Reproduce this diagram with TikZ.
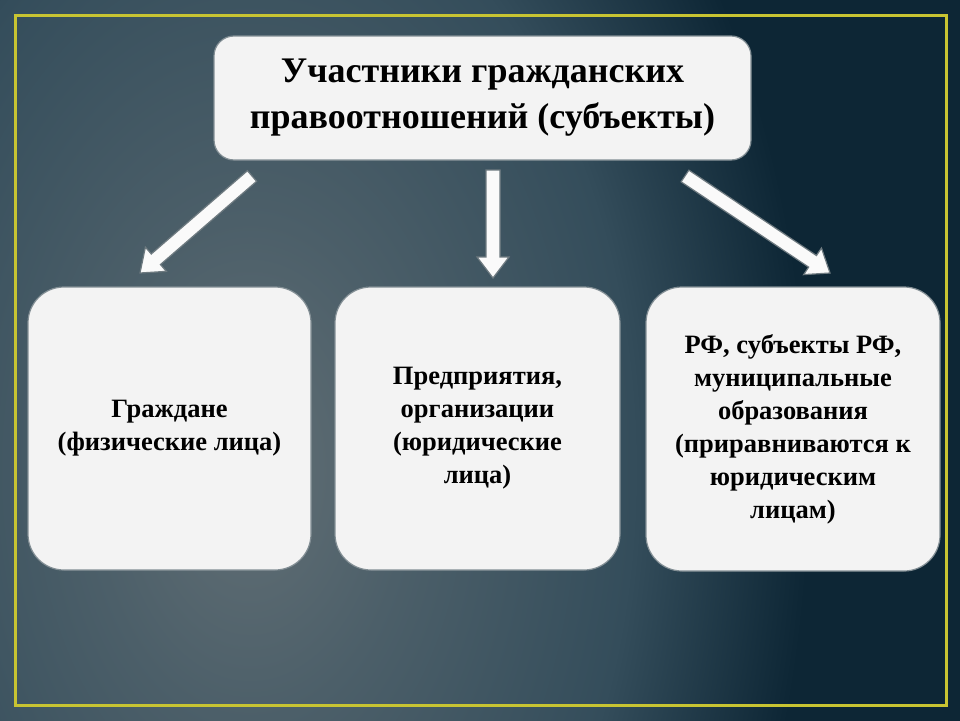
\documentclass[tikz,border=0pt]{standalone}
\usepackage{fontspec}
\setmainfont{Liberation Serif}
\usetikzlibrary{calc}
\definecolor{bgdark}{RGB}{13,38,53}
\definecolor{bgA}{RGB}{98,111,117}
\definecolor{bgB}{RGB}{76,95,105}
\definecolor{bgC}{RGB}{52,77,91}
\definecolor{frameyellow}{RGB}{200,196,50}
\definecolor{boxfill}{RGB}{243,243,243}
\definecolor{boxedge}{RGB}{130,142,148}
\definecolor{arrowedge}{RGB}{110,122,128}
\pgfdeclareradialshading{bgshade}{\pgfpoint{0bp}{0bp}}{color(0bp)=(bgA); color(5bp)=(bgB); color(12bp)=(bgC); color(17.5bp)=(bgdark); color(25bp)=(bgdark); color(50bp)=(bgdark)}
\tikzset{
  headbox/.style={draw=boxedge, line width=1.2pt, fill=boxfill, rounded corners=20pt,
    align=center, font=\fontsize{36}{46}\selectfont\bfseries, inner sep=0pt},
  subbox/.style={draw=boxedge, line width=1.2pt, fill=boxfill, rounded corners=36pt,
    align=center, font=\fontsize{26.5}{33}\selectfont\bfseries, inner sep=0pt},
  arrowbody/.style={fill=white!96!gray, draw=arrowedge, line width=1.2pt, line join=miter}
}
\newcommand\blockarrow[2]{%
  \path coordinate (tmpc) at ($(#2)!21pt!(#1)$);
  \filldraw[arrowbody] ($(#1)!7pt!90:(#2)$) -- ($(tmpc)!7pt!90:(#2)$) -- ($(tmpc)!16pt!90:(#2)$) -- (#2) -- ($(tmpc)!16pt!-90:(#2)$) -- ($(tmpc)!7pt!-90:(#2)$) -- ($(#1)!7pt!-90:(#2)$) -- cycle;}
\begin{document}
\begin{tikzpicture}[x=1pt,y=-1pt]
\useasboundingbox (0,0) rectangle (960,720);
\fill[bgdark] (0,0) rectangle (960,720);
\begin{scope}
  \clip (0,0) rectangle (960,720);
  \shade[shading=bgshade] (250,470) ellipse [x radius=800, y radius=1250];
\end{scope}
\draw[frameyellow, line width=3pt] (15,15) rectangle (946,705);

\node[headbox, minimum width=537pt, minimum height=124pt] (top) at (482.5,98)
  {Участники гражданских\\правоотношений (субъекты)};
\node[subbox, minimum width=283pt, minimum height=283pt] (left) at (169.5,428.5)
  {Граждане\\(физические лица)};
\node[subbox, minimum width=285pt, minimum height=283pt] (mid) at (477.5,428.5)
  {Предприятия,\\организации\\(юридические\\лица)};
\node[subbox, minimum width=294pt, minimum height=284pt] (right) at (793,429)
  {РФ, субъекты РФ,\\муниципальные\\образования\\(приравниваются к\\юридическим\\лицам)};

\coordinate (a1s) at (252,176);
\coordinate (a1e) at (140,273);
\coordinate (a2s) at (493,170);
\coordinate (a2e) at (493,278);
\coordinate (a3s) at (685,176);
\coordinate (a3e) at (830,273);
\blockarrow{a1s}{a1e}
\blockarrow{a2s}{a2e}
\blockarrow{a3s}{a3e}
\end{tikzpicture}
\end{document}
